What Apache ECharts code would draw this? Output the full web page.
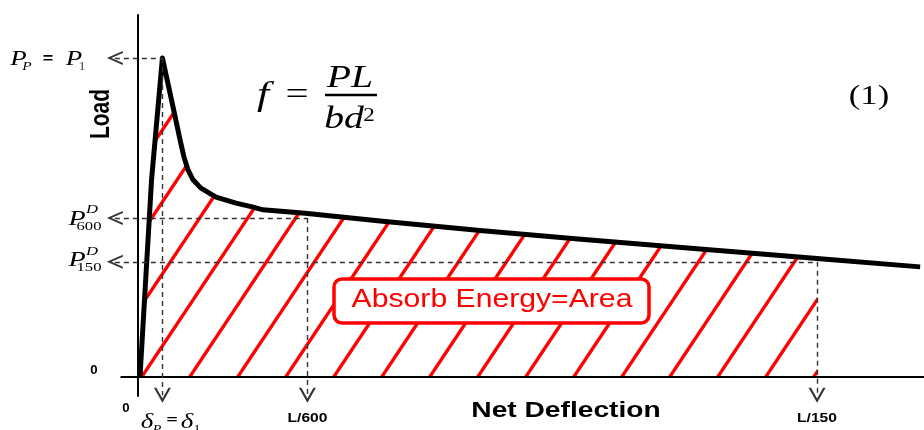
<!DOCTYPE html>
<html>
<head>
<meta charset="utf-8">
<script src="https://cdn.jsdelivr.net/npm/echarts@6/dist/echarts.min.js"></script>
<style>
html, body { margin: 0; padding: 0; background: #fff; }
#main { width: 924px; height: 430px; }
</style>
</head>
<body>
<div id="main"></div>
<script>
// load - net deflection curve (deflection in mm, span L = 450 mm; load normalised to peak = 100)
var deflection = [0.011, 0.062, 0.110, 0.157, 0.188, 0.205, 0.223, 0.245, 0.280, 0.347, 0.435, 0.506, 0.554, 0.740, 1.071, 1.512, 1.932, 2.483, 3.000, 3.455];
var load       = [0,     61.8,  100,   84.6,  74.3,  69.0,  64.9,  61.8,  59.2,  56.4,  54.5,  53.3,  52.4,  51.3,  48.9,  45.9,  43.3,  40.1,  37.1,  34.5];

// characteristic points
var peakLoad = 100;     // P_P = P_1
var peakDefl = 0.11;    // delta_P = delta_1
var L600 = 0.75;        // L/600
var L150 = 3.0;         // L/150
var P600 = 49.8;        // P^D_600
var P150 = 36.1;        // P^D_150

var curve = deflection.map(function (x, i) { return [x, load[i]]; });
var areaData = curve.filter(function (p) { return p[0] <= L150; });

var xMin = -0.1, xMax = 3.472;
var axisStart = -0.075;   // the x axis line starts a little left of the origin

// red hatch used as the area fill
function hatchTile() {
    var w = 48, h = 72, c = 9;
    var cv = document.createElement('canvas');
    cv.width = w; cv.height = h;
    var ctx = cv.getContext('2d');
    ctx.strokeStyle = '#ff0000';
    ctx.lineWidth = 3.4;
    for (var k = -1; k <= 2; k++) {
        ctx.beginPath();
        ctx.moveTo(c + w * k + 2, -3);
        ctx.lineTo(c + w * k - 50, 75);
        ctx.stroke();
    }
    return cv;
}

// open "^" arrow head, rotated by the mark line
var chevron = 'path://M0,12 L7,0 L14,12 L12,12 L7,3.4 L2,12 Z';
var yBottom = -5.8;    // where the vertical guide lines end (below the axis)

function hLine(y, x2) {
    return [{ coord: [xMin, y], symbol: chevron, symbolSize: [14, 16] },
            { coord: [x2, y], symbol: 'none' }];
}
function vLine(x, y1) {
    return [{ coord: [x, y1], symbol: 'none' },
            { coord: [x, yBottom], symbol: chevron, symbolSize: [17, 15] }];
}

var serif = '"Liberation Serif", "Times New Roman", serif';
var sans = '"Liberation Sans", Arial, sans-serif';

function txt(s, x, y, font, extra) {
    var el = {
        type: 'text', x: x, y: y, z: 100, silent: true,
        scaleX: 1.28,
        style: { text: s, font: font, fill: '#000', align: 'center', verticalAlign: 'middle',
                 textAlign: 'center', textVerticalAlign: 'middle' }
    };
    if (extra) {
        for (var k in extra) {
            if (k === 'fill') el.style.fill = extra[k]; else el[k] = extra[k];
        }
    }
    return el;
}

var myChart = echarts.init(document.getElementById('main'));

var option = {
    animation: false,
    backgroundColor: '#fff',
    grid: { left: 114.85, right: 0, top: 15, bottom: 34 },
    xAxis: {
        type: 'value', min: xMin, max: xMax,
        axisLine: { show: false },
        axisTick: { show: false }, axisLabel: { show: false }, splitLine: { show: false }
    },
    yAxis: {
        type: 'value', min: -6, max: 113.5,
        axisLine: { onZero: true, lineStyle: { color: '#000', width: 2 } },
        axisTick: { show: false }, axisLabel: { show: false }, splitLine: { show: false }
    },
    series: [
        {
            name: 'area',
            type: 'line',
            data: areaData,
            symbol: 'none',
            silent: true,
            z: 1,
            lineStyle: { width: 0, opacity: 0 },
            areaStyle: { color: { image: hatchTile(), repeat: 'repeat' }, opacity: 1 }
        },
        {
            name: 'load',
            type: 'line',
            data: curve,
            symbol: 'none',
            silent: true,
            clip: false,
            z: 3,
            lineStyle: { color: '#000', width: 5, join: 'round' },
            markLine: {
                silent: true,
                animation: false,
                label: { show: false },
                lineStyle: { color: '#333', width: 1.4, type: [5, 4] },
                emphasis: { disabled: true },
                data: [
                    // x axis line
                    [{ coord: [axisStart, 0], symbol: 'none', lineStyle: { color: '#000', width: 2, type: 'solid' } },
                     { coord: [xMax, 0], symbol: 'none' }],
                    hLine(peakLoad, peakDefl),
                    hLine(P600, L600),
                    hLine(P150, L150),
                    vLine(peakDefl, peakLoad),
                    vLine(L600, P600),
                    vLine(L150, P150)
                ]
            }
        }
    ],
    graphic: [
        // energy box
        { type: 'rect', z: 90, silent: true,
          shape: { x: 334, y: 279, width: 315, height: 44, r: 8 },
          style: { fill: '#fff', stroke: '#ff0000', lineWidth: 3.5 } },
        txt('Absorb Energy=Area', 492, 300, '26px ' + sans, { fill: '#ff0000', scaleX: 1.16 }),

        // formula
        txt('f', 263, 96, 'italic 34px ' + serif),
        txt('=', 297, 96, '32px ' + serif),
        txt('PL', 350, 79, 'italic 31px ' + serif),
        { type: 'line', z: 100, silent: true, shape: { x1: 325, y1: 95, x2: 377, y2: 95 },
          style: { stroke: '#000', lineWidth: 2.5 } },
        txt('bd', 344, 120, 'italic 31px ' + serif),
        txt('2', 369, 116, '18px ' + serif),
        txt('(1)', 869, 97, '27px ' + serif),

        // axis names
        txt('Load', 101, 114, 'bold 21px ' + sans, { rotation: Math.PI / 2, scaleX: 1, scaleY: 1.3 }),
        txt('Net Deflection', 566, 411, 'bold 22px ' + sans),

        // left labels
        txt('P', 18.5, 59, 'italic 21px ' + serif),
        txt('P', 27, 67, 'italic 12px ' + serif),
        txt('=', 48, 59, 'bold 14px ' + sans),
        txt('P', 74, 59, 'italic 21px ' + serif),
        txt('1', 82, 67, '12px ' + serif, { fill: '#555' }),

        txt('P', 77, 219, 'italic 22px ' + serif),
        txt('D', 92, 210, 'italic 13px ' + serif),
        txt('600', 89, 227, '13px ' + serif),

        txt('P', 77, 260, 'italic 22px ' + serif),
        txt('D', 92, 252, 'italic 13px ' + serif),
        txt('150', 89, 268, '13px ' + serif),

        // bottom labels
        txt('0', 94, 371, 'bold 12px ' + sans, { scaleX: 1.1 }),
        txt('0', 126, 409, 'bold 12px ' + sans, { scaleX: 1.1 }),
        txt('\u03b4', 147, 422, 'italic 21px ' + serif),
        txt('P', 157, 429, 'italic 11px ' + serif),
        txt('=', 172, 421, 'bold 16px ' + serif),
        txt('\u03b4', 187, 422, 'italic 21px ' + serif),
        txt('1', 197, 429, '11px ' + serif),
        txt('L/600', 307.5, 418, 'bold 13px ' + sans, { scaleX: 1.2 }),
        txt('L/150', 817, 418, 'bold 13px ' + sans, { scaleX: 1.2 })
    ]
};

myChart.setOption(option);
window.onresize = function () { myChart.resize(); };
</script>
</body>
</html>
